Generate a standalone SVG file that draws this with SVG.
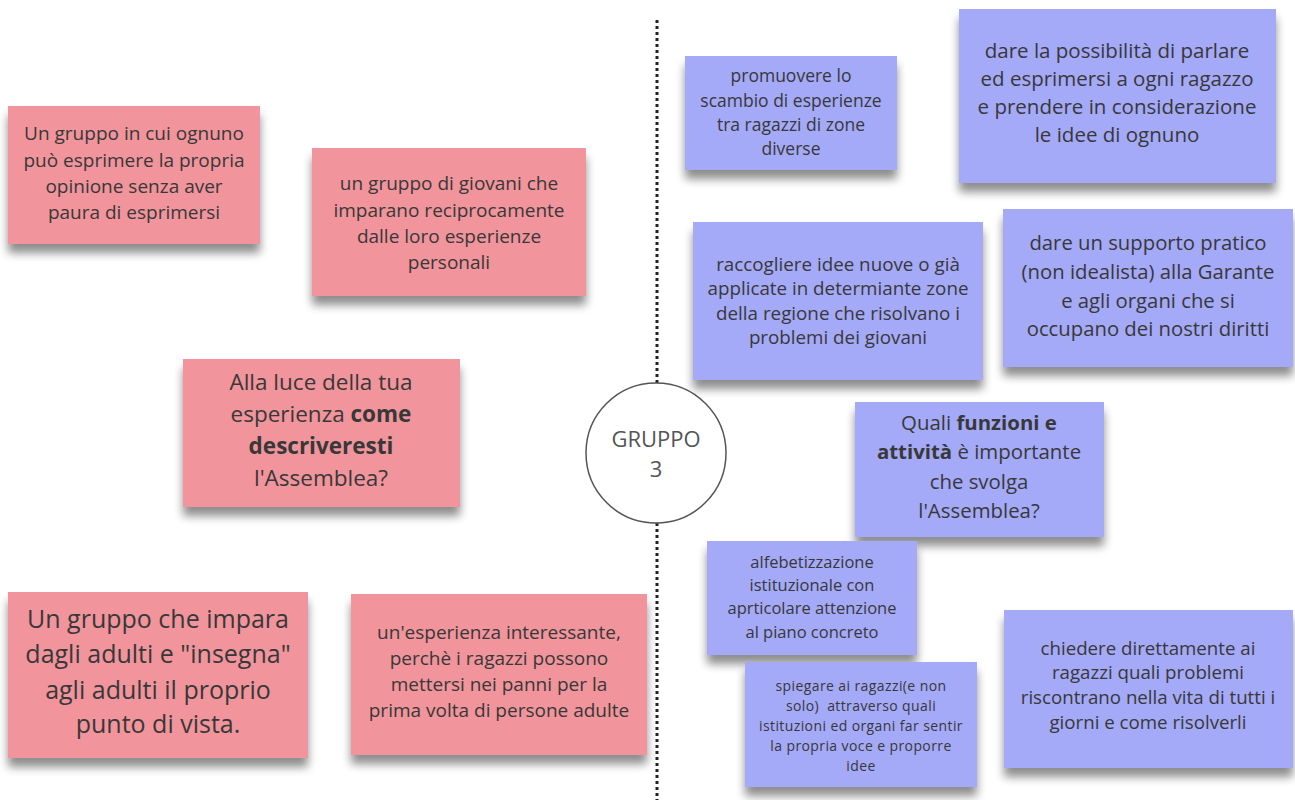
<svg xmlns="http://www.w3.org/2000/svg" width="1295" height="800" viewBox="0 0 1295 800">
<defs>
<filter id="sh" x="-10%" y="-10%" width="120%" height="140%">
<feGaussianBlur in="SourceAlpha" stdDeviation="5"/>
<feOffset dx="0" dy="9" result="b"/>
<feComponentTransfer><feFuncA type="linear" slope="0.45"/></feComponentTransfer>
<feMerge><feMergeNode/><feMergeNode in="SourceGraphic"/></feMerge>
</filter>
</defs>
<style>
.pink{fill:#f1949c;filter:url(#sh)}
.blue{fill:#a4a9f8;filter:url(#sh)}
text{font-family:"Open Sans","Noto Sans","DejaVu Sans",sans-serif;fill:#383838;text-anchor:middle}
.b{font-weight:bold}
.circ{fill:#ffffff;stroke:#555555;stroke-width:1.5}
.sep{stroke:#222222;stroke-width:3;stroke-dasharray:3 3}
</style>
<rect width="1295" height="800" fill="#ffffff"/>
<g id="connectors">
<line class="sep" x1="657" y1="20" x2="657" y2="384"/>
<line class="sep" x1="657" y1="523" x2="657" y2="800"/>
</g>
<g id="p1"><rect class="pink" x="8" y="106" width="252" height="138"/>
<text font-size="19"><tspan x="134" y="140">Un gruppo in cui ognuno</tspan><tspan x="134" y="167">può esprimere la propria</tspan><tspan x="134" y="193">opinione senza aver</tspan><tspan x="134" y="219">paura di esprimersi</tspan></text></g>
<g id="p2"><rect class="pink" x="312" y="148" width="274" height="148"/>
<text font-size="19"><tspan x="449" y="190">un gruppo di giovani che</tspan><tspan x="449" y="217">imparano reciprocamente</tspan><tspan x="449" y="243">dalle loro esperienze</tspan><tspan x="449" y="269">personali</tspan></text></g>
<g id="p3"><rect class="pink" x="183" y="359" width="277" height="148"/>
<text font-size="22.5"><tspan x="321" y="390">Alla luce della tua</tspan><tspan x="321" y="422">esperienza <tspan class="b">come</tspan></tspan><tspan x="321" y="454" class="b">descriveresti</tspan><tspan x="321" y="486">l'Assemblea?</tspan></text></g>
<g id="p4"><rect class="pink" x="8" y="592" width="300" height="166"/>
<text font-size="25"><tspan x="158" y="628">Un gruppo che impara</tspan><tspan x="158" y="663">dagli adulti e "insegna"</tspan><tspan x="158" y="699">agli adulti il proprio</tspan><tspan x="158" y="733">punto di vista.</tspan></text></g>
<g id="p5"><rect class="pink" x="351" y="594" width="296" height="161"/>
<text font-size="19"><tspan x="499" y="639">un'esperienza interessante,</tspan><tspan x="499" y="665">perchè i ragazzi possono</tspan><tspan x="499" y="691">mettersi nei panni per la</tspan><tspan x="499" y="717">prima volta di persone adulte</tspan></text></g>
<g id="b1"><rect class="blue" x="685" y="56" width="212" height="114"/>
<text font-size="17.5"><tspan x="791" y="82">promuovere lo</tspan><tspan x="791" y="107">scambio di esperienze</tspan><tspan x="791" y="131">tra ragazzi di zone</tspan><tspan x="791" y="155">diverse</tspan></text></g>
<g id="b2"><rect class="blue" x="959" y="9" width="317" height="174"/>
<text font-size="20.5"><tspan x="1117" y="58">dare la possibilità di parlare</tspan><tspan x="1117" y="86">ed esprimersi a ogni ragazzo</tspan><tspan x="1117" y="114">e prendere in considerazione</tspan><tspan x="1117" y="142">le idee di ognuno</tspan></text></g>
<g id="b3"><rect class="blue" x="693" y="222" width="290" height="158"/>
<text font-size="18.8"><tspan x="838" y="271">raccogliere idee nuove o già</tspan><tspan x="838" y="295">applicate in determiante zone</tspan><tspan x="838" y="320">della regione che risolvano i</tspan><tspan x="838" y="344">problemi dei giovani</tspan></text></g>
<g id="b4"><rect class="blue" x="1003" y="209" width="290" height="158"/>
<text font-size="20.3"><tspan x="1148" y="250">dare un supporto pratico</tspan><tspan x="1148" y="279">(non idealista) alla Garante</tspan><tspan x="1148" y="308">e agli organi che si</tspan><tspan x="1148" y="336">occupano dei nostri diritti</tspan></text></g>
<g id="b5"><rect class="blue" x="855" y="402" width="249" height="135"/>
<text font-size="20.4"><tspan x="979" y="430">Quali <tspan class="b">funzioni e</tspan></tspan><tspan x="979" y="459"><tspan class="b">attività</tspan> è importante</tspan><tspan x="979" y="489">che svolga</tspan><tspan x="979" y="518">l'Assemblea?</tspan></text></g>
<g id="b6"><rect class="blue" x="707" y="541" width="210" height="114"/>
<text font-size="16.5"><tspan x="812" y="568">alfebetizzazione</tspan><tspan x="812" y="591">istituzionale con</tspan><tspan x="812" y="614">aprticolare attenzione</tspan><tspan x="812" y="638">al piano concreto</tspan></text></g>
<g id="b7"><rect class="blue" x="745" y="662" width="232" height="125"/>
<text font-size="14" letter-spacing="0.4"><tspan x="861" y="691">spiegare ai ragazzi(e non</tspan><tspan x="861" y="711">solo)&#160; attraverso quali</tspan><tspan x="861" y="731">istituzioni ed organi far sentir</tspan><tspan x="861" y="751">la propria voce e proporre</tspan><tspan x="861" y="771">idee</tspan></text></g>
<g id="b8"><rect class="blue" x="1004" y="610" width="289" height="158"/>
<text font-size="18.7"><tspan x="1148" y="655">chiedere direttamente ai</tspan><tspan x="1148" y="679">ragazzi quali problemi</tspan><tspan x="1148" y="704">riscontrano nella vita di tutti i</tspan><tspan x="1148" y="729">giorni e come risolverli</tspan></text></g>
<g id="gruppo"><circle class="circ" cx="656" cy="453" r="70"/>
<text font-size="22" style="fill:#555555"><tspan x="656" y="447">GRUPPO</tspan><tspan x="656" y="477">3</tspan></text></g>
</svg>
